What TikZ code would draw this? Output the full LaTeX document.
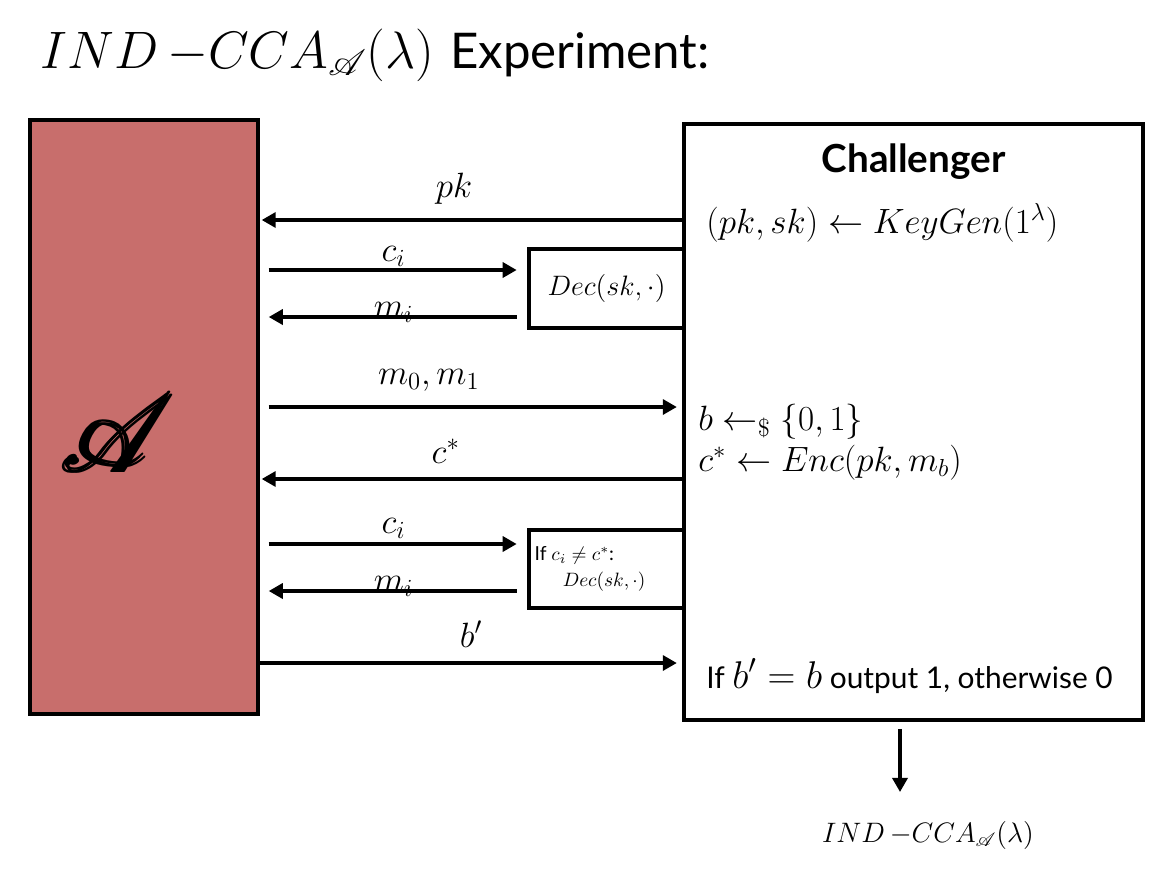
\RequirePackage{fix-cm}
\documentclass[tikz,border=0pt]{standalone}
\usepackage{amsmath}
\usepackage{mathrsfs}
\usepackage{fontspec}
\setsansfont{Lato}
\usetikzlibrary{arrows.meta,positioning}

\definecolor{advred}{RGB}{200,110,108}
\newcommand{\fsz}[1]{\fontsize{#1}{#1}\selectfont}
\newcommand{\cA}{\mathscr{A}}

\tikzset{
  party/.style={draw, line width=2.2pt, inner sep=0pt},
  oracle/.style={draw, line width=2pt, inner sep=0pt, minimum width=3.1cm},
  msg/.style={line width=2.2pt, -{Triangle[length=8pt,width=8.5pt]}},
  lbl/.style={inner sep=0pt, font=\fsz{20}},
  txt/.style={inner sep=0pt, font=\fsz{20}, anchor=base west},
}

\begin{document}
\begin{tikzpicture}[x=0.02cm, y=-0.02cm]
\useasboundingbox (0,0) rectangle (1173,870);

% title
\node[anchor=base west, inner sep=0pt] (title) at (40,68)
  {\fsz{30}$IND\,{-}CCA_{\cA}(\lambda)$ {\fsz{28}\sffamily Experiment:}};

% adversary, challenger and the two oracles
\node[party, fill=advred, minimum width=4.56cm, minimum height=11.88cm] (adv) at (144,417) {};
\node[inner sep=0pt] (advA) at (120,433) {\fsz{24}\scalebox{2.5}{$\pmb{\cA}$}};
\node[party, minimum width=9.18cm, minimum height=11.92cm] (chal) at (913.5,422) {};
\node[oracle, minimum height=1.58cm] (dec1) at (606.5,288.5) {\fsz{16}$Dec(sk,\cdot)$};
\node[oracle, minimum height=1.56cm] (dec2) at (606.5,569) {};
\node[inner sep=0pt, anchor=west, align=left, font=\fontsize{11}{15}\selectfont] (dec2txt)
  at ([xshift=4pt]dec2.west) {\sffamily If $c_i\neq c^*$:\\ \hspace*{16pt}$Dec(sk,\cdot)$};

% challenger's side
\node[below=12pt of chal.north, inner sep=0pt, font=\fsz{22}\sffamily\bfseries] (chaltitle) {Challenger};
\node[txt] (keygen) at (706,233) {$(pk,sk)\leftarrow KeyGen(1^{\lambda})$};
\node[txt] (coin) at (698,430) {$b\leftarrow_{\$}\{0,1\}$};
\node[txt] (enc) at (698,471) {$c^*\leftarrow Enc(pk,m_b)$};
\node[txt, font=\fsz{17}\sffamily] (verdict) at (706,688) {If {\fsz{22}$b'=b$} output 1, otherwise 0};

% messages
\coordinate (ypk) at (0,220);
\coordinate (yc1) at (0,270);
\coordinate (ym1) at (0,317);
\coordinate (ymm) at (0,407);
\coordinate (ycs) at (0,479);
\coordinate (yc2) at (0,544);
\coordinate (ym2) at (0,591);
\coordinate (ybp) at (0,663);

\draw[msg, shorten >=1pt] (chal.west |- ypk) -- node[lbl, above=8pt, pos=.54] (pklbl) {$pk$} (adv.east |- ypk);
\draw[msg, shorten <=5pt, shorten >=6pt] (adv.east |- yc1) -- node[lbl, above=1pt] (c1lbl) {$c_i$} (dec1.west |- yc1);
\draw[msg, shorten <=6pt, shorten >=5pt] (dec1.west |- ym1) -- node[lbl, anchor=base] (m1lbl) {$m_i$} (adv.east |- ym1);
\draw[msg, shorten <=5pt, shorten >=3pt] (adv.east |- ymm) -- node[lbl, above=8pt, pos=.4] (mmlbl) {$m_0,m_1$} (chal.west |- ymm);
\draw[msg, shorten >=1pt] (chal.west |- ycs) -- node[lbl, above=8pt, pos=.56] (cslbl) {$c^*$} (adv.east |- ycs);
\draw[msg, shorten <=5pt, shorten >=6pt] (adv.east |- yc2) -- node[lbl, above=2pt] (c2lbl) {$c_i$} (dec2.west |- yc2);
\draw[msg, shorten <=6pt, shorten >=5pt] (dec2.west |- ym2) -- node[lbl, anchor=base] (m2lbl) {$m_i$} (adv.east |- ym2);
\draw[msg, shorten >=3pt] (adv.east |- ybp) -- node[lbl, above=8pt] (bplbl) {$b'$} (chal.west |- ybp);

% result
\node[inner sep=0pt, font=\fsz{16}] (result) at (928,835) {$IND\,{-}CCA_{\cA}(\lambda)$};
\coordinate (resarr) at (900,792);
\draw[msg, shorten <=4pt] (chal.south -| resarr) -- (resarr);
\end{tikzpicture}
\end{document}
